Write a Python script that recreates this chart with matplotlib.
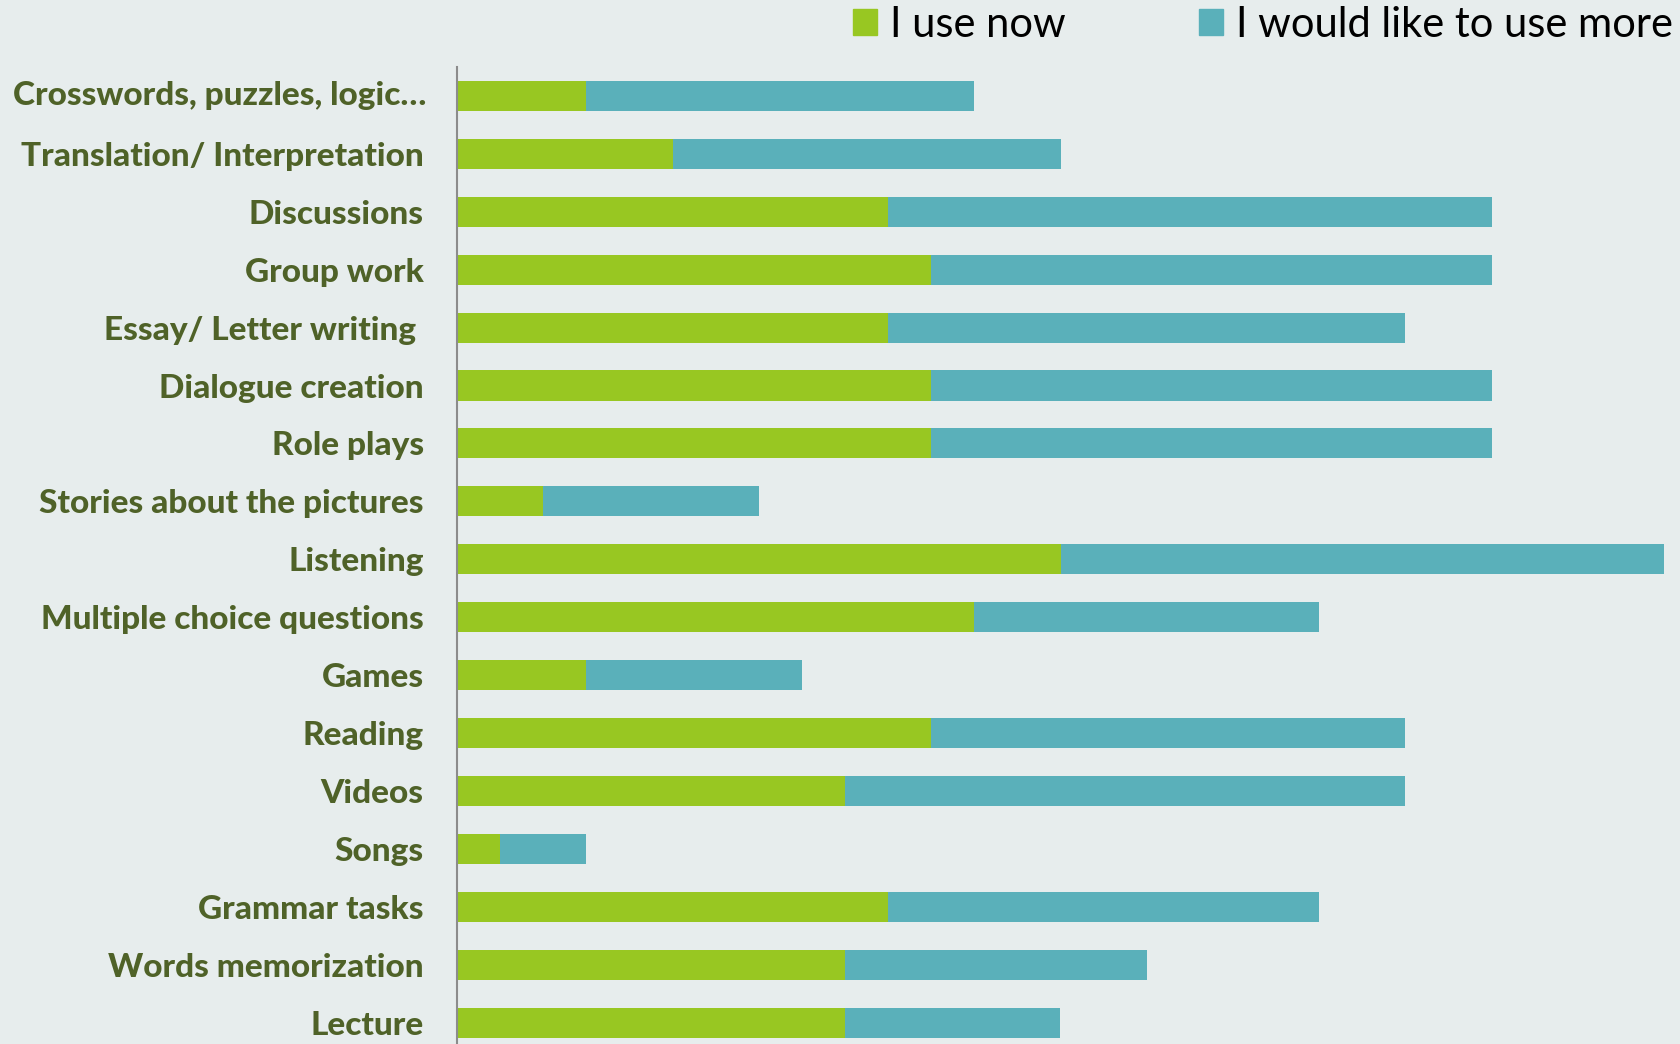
import matplotlib
matplotlib.use('Agg')
import matplotlib.pyplot as plt
from matplotlib.patches import Patch
import matplotlib.transforms as mtransforms

categories = ['Crosswords, puzzles, logic…', 'Translation/ Interpretation', 'Discussions',
              'Group work', 'Essay/ Letter writing ', 'Dialogue creation', 'Role plays',
              'Stories about the pictures', 'Listening', 'Multiple choice questions',
              'Games', 'Reading', 'Videos', 'Songs', 'Grammar tasks',
              'Words memorization', 'Lecture']
use_now = [3, 5, 10, 11, 10, 11, 11, 2, 14, 12, 3, 11, 9, 1, 10, 9, 9]
like_more = [9, 9, 14, 13, 12, 13, 13, 5, 14, 8, 5, 11, 13, 2, 10, 7, 5]

bg = '#E7EDED'
green = '#98C722'
blue = '#5AB0BA'
label_col = '#4F6228'

plt.rcParams['font.family'] = ['Lato', 'DejaVu Sans']

fig = plt.figure(figsize=(16.81, 10.44), dpi=100, facecolor=bg)
ax = fig.add_axes([457/1681, 0, (1664-457)/1681, 1 - 67/1044])
ax.set_facecolor(bg)

y = list(range(len(categories)))
ax.barh(y, use_now, height=0.52, color=green, label='I use now')
ax.barh(y, like_more, left=use_now, height=0.52, color=blue, label='I would like to use more')

ax.set_xlim(0, 28)
ax.set_ylim(16.37, -0.5)
ax.set_yticks(y)
ax.set_yticklabels([''] + categories[1:], fontsize=24, fontweight='black', color=label_col)
ax.tick_params(axis='y', length=0, pad=24)
ax.set_xticks([])
for s in ['top', 'right', 'bottom']:
    ax.spines[s].set_visible(False)
ax.spines['left'].set_color('#8C8C8C')
ax.spines['left'].set_linewidth(1.5)

# long first label runs past the normal label column
trans = mtransforms.blended_transform_factory(fig.transFigure, ax.transData)
ax.text(13/1681, 0, categories[0], transform=trans, ha='left', va='center',
        fontsize=24, fontweight='black', color=label_col)

handles = [Patch(color=green), Patch(color=blue)]
fig.legend(handles, ['I use now', 'I would like to use more'], loc='center right',
           bbox_to_anchor=(1673/1681, 1 - 25/1044), ncol=2, frameon=False, fontsize=30,
           borderpad=0, borderaxespad=0,
           handlelength=0.58, handleheight=0.58, handletextpad=0.31, columnspacing=3.2)

fig.savefig('out.png', dpi=100, facecolor=bg)
